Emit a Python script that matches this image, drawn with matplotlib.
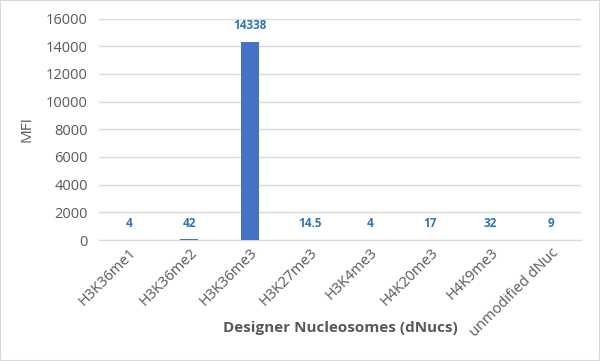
import matplotlib.pyplot as plt
import numpy as np

# données
categories = ['H3K36me1', 'H3K36me2', 'H3K36me3', 'H3K27me3', 'H3K4me3',
              'H4K20me3', 'H4K9me3', 'unmodified dNuc']
mfi = [4, 42, 14338, 14.5, 4, 17, 32, 9]
labels = ['4', '42', '14338', '14.5', '4', '17', '32', '9']
yticks = [0, 2000, 4000, 6000, 8000, 10000, 12000, 14000, 16000]

plt.rcParams['font.family'] = ['Open Sans', 'DejaVu Sans']

fig = plt.figure(figsize=(6, 3.61), dpi=100)
ax = fig.add_axes([99/600, 1 - 240/361, 482/600, (240 - 18.5)/361])

x = np.arange(len(categories))
ax.bar(x, mfi, width=0.3, color='#4472C4', zorder=3)

for xi, v, lab in zip(x, mfi, labels):
    ax.annotate(lab, (xi, v), xytext=(0, 7), textcoords='offset points',
                ha='center', va='bottom', fontsize=8.5, fontweight='bold',
                color='#2E75B6')

ax.set_xlim(-0.5, len(categories) - 0.5)
ax.set_ylim(0, 16000)
ax.set_yticks(yticks)
ax.yaxis.grid(True, color='#D9D9D9', linewidth=1)
ax.set_axisbelow(True)
for s in ['top', 'right', 'left']:
    ax.spines[s].set_visible(False)
ax.spines['bottom'].set_color('#D9D9D9')
ax.tick_params(axis='both', length=0, colors='#595959', labelsize=10.5)
ax.tick_params(axis='y', pad=8)
ax.set_xticks(x)
ax.set_xticklabels(categories, rotation=45, ha='right', rotation_mode='anchor')
ax.tick_params(axis='x', pad=4)

ax.set_ylabel('MFI', fontsize=11, color='#595959', labelpad=8)
ax.set_xlabel('Designer Nucleosomes (dNucs)', fontsize=11, fontweight='bold',
              color='#595959', labelpad=-14)

fig.patches.append(plt.Rectangle((0, 0), 1, 1, transform=fig.transFigure,
                                 fill=False, edgecolor='#D9D9D9', linewidth=1.5))

fig.savefig('out.png', dpi=100)
